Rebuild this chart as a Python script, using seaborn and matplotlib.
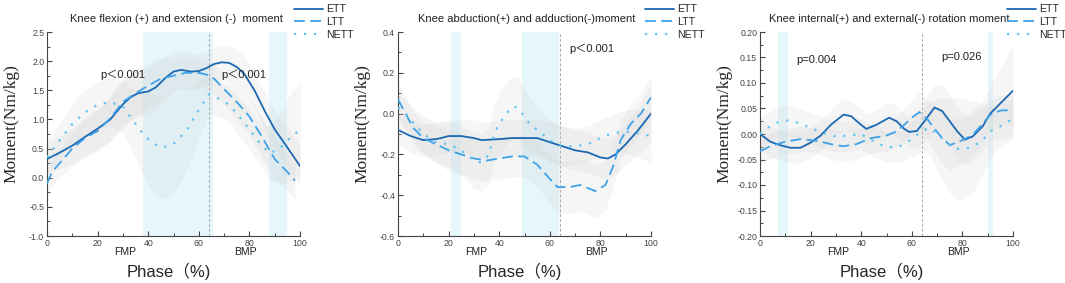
import numpy as np
import pandas as pd
import seaborn as sns
import matplotlib
matplotlib.use("Agg")
import matplotlib.pyplot as plt
from matplotlib.ticker import MultipleLocator, FormatStrFormatter
import matplotlib.transforms as mtransforms

# ---- panel 1 : flexion / extension ----
p1_ett_x = [0,5,10,15,20,25,30,33,36,40,43,47,50,53,57,60,63,66,69,72,75,78,82,86,90,95,100]
p1_ett_y = [0.32,0.43,0.55,0.7,0.84,1.0,1.26,1.38,1.45,1.48,1.55,1.72,1.82,1.85,1.82,1.83,1.88,1.95,1.98,1.97,1.9,1.78,1.5,1.15,0.83,0.52,0.2]
p1_ett_sd = [0.25,0.28,0.3,0.32,0.35,0.38,0.4,0.4,0.4,0.4,0.4,0.38,0.35,0.33,0.32,0.3,0.28,0.28,0.28,0.28,0.3,0.3,0.32,0.32,0.33,0.35,0.35]
p1_ltt_x = [0,2,5,10,15,20,25,30,35,40,45,50,55,60,63,66,70,75,80,85,90,95,98]
p1_ltt_y = [-0.1,0.1,0.25,0.5,0.68,0.8,1.02,1.3,1.45,1.58,1.7,1.75,1.8,1.8,1.77,1.7,1.52,1.3,1.05,0.7,0.32,0.1,-0.05]
p1_ltt_sd = [0.2,0.22,0.25,0.3,0.33,0.35,0.38,0.4,0.4,0.38,0.35,0.3,0.28,0.25,0.25,0.25,0.28,0.3,0.32,0.35,0.35,0.33,0.3]
p1_nett_x = [0,3,6,10,15,20,25,30,34,38,42,46,50,55,60,64,68,72,76,80,84,88,92,96,100]
p1_nett_y = [0.35,0.52,0.7,0.92,1.12,1.25,1.3,1.22,0.98,0.75,0.58,0.52,0.58,0.8,1.17,1.43,1.35,1.25,1.05,0.83,0.6,0.42,0.5,0.68,0.82]
p1_nett_sd = [0.3,0.3,0.32,0.35,0.38,0.4,0.42,0.45,0.55,0.7,0.85,0.88,0.85,0.7,0.5,0.35,0.3,0.3,0.32,0.35,0.38,0.45,0.6,0.75,0.8]

# ---- panel 2 : abduction / adduction ----
p2_ett_x = [0,5,10,15,17,20,25,30,33,40,45,50,55,60,65,70,75,80,83,86,90,95,100]
p2_ett_y = [-0.08,-0.11,-0.13,-0.125,-0.12,-0.11,-0.11,-0.12,-0.13,-0.125,-0.12,-0.12,-0.12,-0.14,-0.16,-0.18,-0.19,-0.215,-0.22,-0.2,-0.15,-0.08,0.0]
p2_ett_sd = [0.07,0.08,0.08,0.08,0.08,0.08,0.08,0.09,0.09,0.09,0.09,0.09,0.09,0.1,0.1,0.1,0.1,0.1,0.1,0.1,0.1,0.12,0.14]
p2_ltt_x = [0,3,6,10,15,20,25,30,35,40,45,50,55,60,63,68,72,78,82,85,88,92,96,100]
p2_ltt_y = [0.07,0.0,-0.07,-0.12,-0.15,-0.18,-0.2,-0.22,-0.23,-0.22,-0.21,-0.21,-0.25,-0.32,-0.36,-0.36,-0.35,-0.38,-0.35,-0.26,-0.13,-0.05,0.0,0.08]
p2_ltt_sd = [0.08,0.08,0.08,0.08,0.09,0.1,0.1,0.1,0.1,0.1,0.1,0.1,0.11,0.12,0.13,0.13,0.13,0.13,0.12,0.11,0.1,0.1,0.1,0.1]
p2_nett_x = [0,3,7,10,15,20,25,30,33,36,38,40,44,46,48,52,57,60,65,70,75,80,84,88,92,96,100]
p2_nett_y = [0.03,0.0,-0.06,-0.1,-0.14,-0.15,-0.18,-0.23,-0.24,-0.2,-0.1,-0.05,0.02,0.035,0.02,-0.05,-0.1,-0.13,-0.16,-0.16,-0.15,-0.12,-0.1,-0.09,-0.09,-0.1,-0.11]
p2_nett_sd = [0.06,0.07,0.08,0.09,0.1,0.11,0.12,0.14,0.14,0.14,0.14,0.15,0.15,0.15,0.15,0.13,0.11,0.1,0.1,0.09,0.09,0.09,0.09,0.1,0.11,0.12,0.13]

# ---- panel 3 : internal / external rotation ----
p3_ett_x = [0,4,8,12,16,20,24,28,33,36,39,42,46,51,54,57,59,62,65,69,72,75,78,81,84,88,91,95,100]
p3_ett_y = [0.0,-0.015,-0.022,-0.027,-0.027,-0.017,-0.003,0.018,0.038,0.035,0.022,0.01,0.018,0.032,0.025,0.01,0.004,0.006,0.025,0.052,0.045,0.025,0.005,-0.011,-0.005,0.015,0.04,0.06,0.085]
p3_ett_sd = [0.03,0.03,0.03,0.03,0.03,0.03,0.03,0.03,0.03,0.03,0.03,0.03,0.03,0.03,0.03,0.03,0.03,0.035,0.04,0.045,0.05,0.05,0.05,0.05,0.05,0.05,0.055,0.07,0.09]
p3_ltt_x = [0,4,10,16,20,24,28,33,38,44,50,54,57,60,63,66,69,72,75,80,84,88,91,95,100]
p3_ltt_y = [-0.034,-0.024,-0.015,-0.01,-0.012,-0.015,-0.02,-0.024,-0.02,-0.008,-0.003,0.005,0.018,0.032,0.043,0.03,0.01,-0.008,-0.022,-0.012,-0.002,0.02,0.038,0.046,0.047]
p3_ltt_sd = [0.025,0.025,0.025,0.025,0.025,0.025,0.03,0.03,0.03,0.03,0.03,0.03,0.03,0.035,0.04,0.04,0.045,0.05,0.05,0.045,0.04,0.035,0.03,0.03,0.03]
p3_nett_x = [0,4,8,12,16,20,25,30,35,40,45,50,55,60,64,67,70,74,77,80,84,88,91,95,100]
p3_nett_y = [0.0,0.015,0.025,0.027,0.02,0.012,0.002,-0.005,-0.003,0.0,-0.015,-0.026,-0.025,-0.01,0.006,0.012,0.0,-0.018,-0.028,-0.03,-0.025,-0.012,0.005,0.015,0.03]
p3_nett_sd = [0.03,0.03,0.03,0.03,0.03,0.03,0.03,0.03,0.03,0.03,0.03,0.03,0.03,0.035,0.04,0.05,0.07,0.09,0.1,0.1,0.09,0.07,0.05,0.04,0.04]

titles = ["Knee flexion (+) and extension (-)  moment",
          "Knee abduction(+) and adduction(-)moment",
          "Knee internal(+) and external(-) rotation moment"]
groups = ["ETT", "LTT", "NETT"]
sig_spans = [[(37.8, 65.5), (87.9, 95.0)],
             [(21.0, 25.0), (48.9, 63.7)],
             [(7.2, 11.2), (90.0, 92.0)]]
p_texts = [[(21, 1.76, "p＜0.001"), (68.7, 1.76, "p＜0.001")],
           [(67.6, 0.32, "p＜0.001")],
           [(14.3, 0.145, "p=0.004"), (71.8, 0.15, "p=0.026")]]
ylims = [(-1.0, 2.5), (-0.6, 0.4), (-0.2, 0.2)]
ymajor = [0.5, 0.2, 0.05]
yfmt = ["%.1f", "%.1f", "%.2f"]

panels = [
    [(p1_ett_x, p1_ett_y, p1_ett_sd), (p1_ltt_x, p1_ltt_y, p1_ltt_sd), (p1_nett_x, p1_nett_y, p1_nett_sd)],
    [(p2_ett_x, p2_ett_y, p2_ett_sd), (p2_ltt_x, p2_ltt_y, p2_ltt_sd), (p2_nett_x, p2_nett_y, p2_nett_sd)],
    [(p3_ett_x, p3_ett_y, p3_ett_sd), (p3_ltt_x, p3_ltt_y, p3_ltt_sd), (p3_nett_x, p3_nett_y, p3_nett_sd)],
]

sns.set_style("ticks")
plt.rcParams['font.family'] = ['Liberation Sans', 'Noto Sans CJK SC', 'DejaVu Sans']
plt.rcParams['axes.unicode_minus'] = False
plt.rcParams['lines.dash_capstyle'] = 'butt'

colors = {"ETT": "#1b68b3", "LTT": "#3ea2e8", "NETT": "#62c4f2"}
styles = {"ETT": "-", "LTT": (0, (6, 3)), "NETT": (0, (1, 3.5))}
widths = {"ETT": 1.3, "LTT": 1.3, "NETT": 1.6}

fig = plt.figure(figsize=(10.65, 2.83), dpi=100)
lefts = [47, 398, 760]

for i, series in enumerate(panels):
    ax = fig.add_axes([lefts[i] / 1065, 47 / 283, 253 / 1065, 204 / 283])

    for a, b in sig_spans[i]:
        ax.axvspan(a, b, color="#e6f7fc", lw=0, zorder=0)
    ax.axvline(64, color="#a8a8a8", lw=0.7, ls=(0, (3, 2)), zorder=1)

    for g, (xs, ys, sd) in zip(groups, series):
        xs = np.array(xs); ys = np.array(ys); sd = np.array(sd)
        ax.fill_between(xs, ys - sd, ys + sd, color="#cccccc", alpha=0.17, lw=0, zorder=1)

    for g, (xs, ys, sd) in zip(groups, series):
        df = pd.DataFrame({"phase": xs, "moment": ys})
        sns.lineplot(data=df, x="phase", y="moment", ax=ax, color=colors[g],
                     linestyle=styles[g], lw=widths[g], label=g, zorder=3)

    ax.set_xlim(0, 100)
    ax.set_ylim(*ylims[i])
    ax.xaxis.set_major_locator(MultipleLocator(20))
    ax.xaxis.set_minor_locator(MultipleLocator(10))
    ax.yaxis.set_major_locator(MultipleLocator(ymajor[i]))
    ax.yaxis.set_minor_locator(MultipleLocator(ymajor[i] / 2))
    ax.yaxis.set_major_formatter(FormatStrFormatter(yfmt[i]))
    ax.tick_params(which="both", direction="in", colors="#444444", labelsize=6.3, pad=2)
    ax.tick_params(which="major", length=3.5, width=0.8)
    ax.tick_params(which="minor", length=2, width=0.7)
    for s in ["top", "right"]:
        ax.spines[s].set_visible(False)
    for s in ["left", "bottom"]:
        ax.spines[s].set_color("#444444")
        ax.spines[s].set_linewidth(0.8)

    ax.set_title(titles[i], fontsize=8, x=0.51, pad=7, color="#222222")
    ax.set_ylabel("Moment(Nm/kg)", family=["Liberation Serif", "DejaVu Serif"], fontsize=12.5)
    ax.yaxis.set_label_coords(-0.11, 0.55)
    ax.set_xlabel("Phase（%)", fontsize=12, family=["Liberation Sans", "Noto Sans CJK SC"])
    ax.xaxis.set_label_coords(0.48, -0.13)

    trans = mtransforms.blended_transform_factory(ax.transData, ax.transAxes)
    ax.text(31, -0.078, "FMP", transform=trans, ha="center", va="center", fontsize=7.5, color="#222222")
    ax.text(78.5, -0.078, "BMP", transform=trans, ha="center", va="center", fontsize=7.5, color="#222222")

    for px, py, t in p_texts[i]:
        ax.text(px, py, t, ha="left", va="center", fontsize=8, color="#222222", zorder=4)

    ax.legend(loc="upper left", bbox_to_anchor=(0.975, 1.135), frameon=False, fontsize=7.6,
              handlelength=2.8, labelspacing=0.25, borderaxespad=0, handletextpad=0.3,
              borderpad=0)

fig.savefig("out.png", dpi=100)
